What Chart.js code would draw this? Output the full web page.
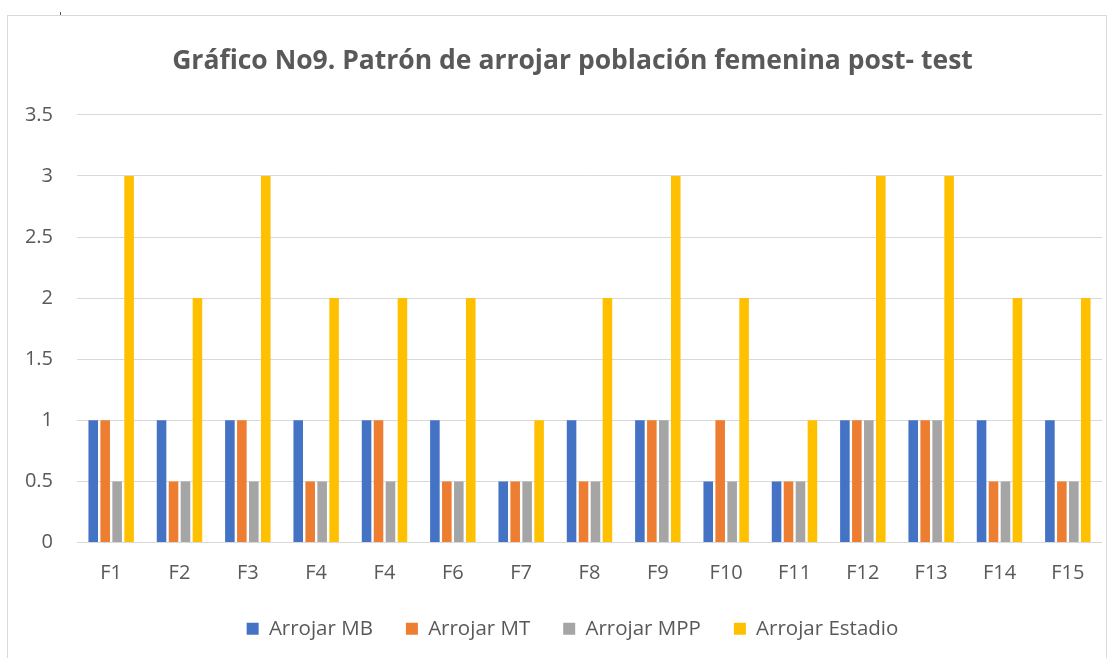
<!DOCTYPE html>
<html>
<head>
<meta charset="utf-8">
<script src="https://cdn.jsdelivr.net/npm/chart.js@4/dist/chart.umd.min.js"></script>
<style>
  html, body { margin: 0; padding: 0; background: #fff; }
  #wrap { position: relative; width: 1117px; height: 658px; overflow: hidden; }
  #frame { position: absolute; left: 7px; top: 15px; width: 1100px; height: 700px; border: 1px solid #d9d9d9; box-sizing: border-box; }
  #mark { position: absolute; left: 60px; top: 12px; width: 1px; height: 3px; background: #595959; }
  canvas { position: absolute; left: 0; top: 0; }
</style>
</head>
<body>
<div id="wrap">
  <div id="frame"></div>
  <div id="mark"></div>
  <canvas id="chart" width="1117" height="658"></canvas>
</div>
<script>
const categories = ['F1', 'F2', 'F3', 'F4', 'F4', 'F6', 'F7', 'F8', 'F9', 'F10', 'F11', 'F12', 'F13', 'F14', 'F15'];
const arrojarMB      = [1, 1, 1, 1, 1, 1, 0.5, 1, 1, 0.5, 0.5, 1, 1, 1, 1];
const arrojarMT      = [1, 0.5, 1, 0.5, 1, 0.5, 0.5, 0.5, 1, 1, 0.5, 1, 1, 0.5, 0.5];
const arrojarMPP     = [0.5, 0.5, 0.5, 0.5, 0.5, 0.5, 0.5, 0.5, 1, 0.5, 0.5, 1, 1, 0.5, 0.5];
const arrojarEstadio = [3, 2, 3, 2, 2, 2, 1, 2, 3, 2, 1, 3, 3, 2, 2];
const yTicks = [0, 0.5, 1, 1.5, 2, 2.5, 3, 3.5];

const FONT = '"Open Sans", sans-serif';
const TEXT = '#595959';

// y labels reach left of the padded area, so widen their clip box after layout
const unclipY = {
    id: 'unclipY',
    afterLayout(chart) { chart.scales.y.left = 0; }
};

new Chart(document.getElementById('chart'), {
    type: 'bar',
    data: {
        labels: categories,
        datasets: [
            { label: 'Arrojar MB', data: arrojarMB, backgroundColor: '#4472C4' },
            { label: 'Arrojar MT', data: arrojarMT, backgroundColor: '#ED7D31' },
            { label: 'Arrojar MPP', data: arrojarMPP, backgroundColor: '#A5A5A5' },
            { label: 'Arrojar Estadio', data: arrojarEstadio, backgroundColor: '#FFC000' }
        ]
    },
    plugins: [unclipY],
    options: {
        responsive: false,
        animation: false,
        devicePixelRatio: 1,
        categoryPercentage: 0.7,
        barPercentage: 0.8,
        // left padding shifts the centre of title and legend to match the frame
        layout: { padding: { left: 43, right: 15, top: 0, bottom: 9 } },
        scales: {
            x: {
                grid: { display: false },
                border: { display: false },
                ticks: { color: TEXT, font: { family: FONT, size: 20 }, padding: 11 },
                afterFit: scale => { scale.height = 43; }
            },
            y: {
                min: 0,
                max: 3.5,
                afterBuildTicks: scale => { scale.ticks = yTicks.map(v => ({ value: v })); },
                grid: { color: '#d9d9d9', lineWidth: 1, drawTicks: false },
                border: { display: false },
                ticks: {
                    color: TEXT,
                    font: { family: FONT, size: 20 },
                    padding: 24,
                    callback: v => String(v)
                },
                afterFit: scale => { scale.width = 34; }
            }
        },
        plugins: {
            title: {
                display: true,
                text: 'Gráfico No9. Patrón de arrojar población femenina post- test',
                color: TEXT,
                font: { family: FONT, size: 26.5, weight: 'bold', lineHeight: 1.2 },
                padding: { top: 46, bottom: 37 }
            },
            legend: {
                position: 'bottom',
                labels: {
                    color: TEXT,
                    font: { family: FONT, size: 20.5 },
                    boxWidth: 12,
                    boxHeight: 12,
                    padding: 33
                }
            },
            tooltip: { enabled: false }
        }
    }
});
</script>
</body>
</html>
